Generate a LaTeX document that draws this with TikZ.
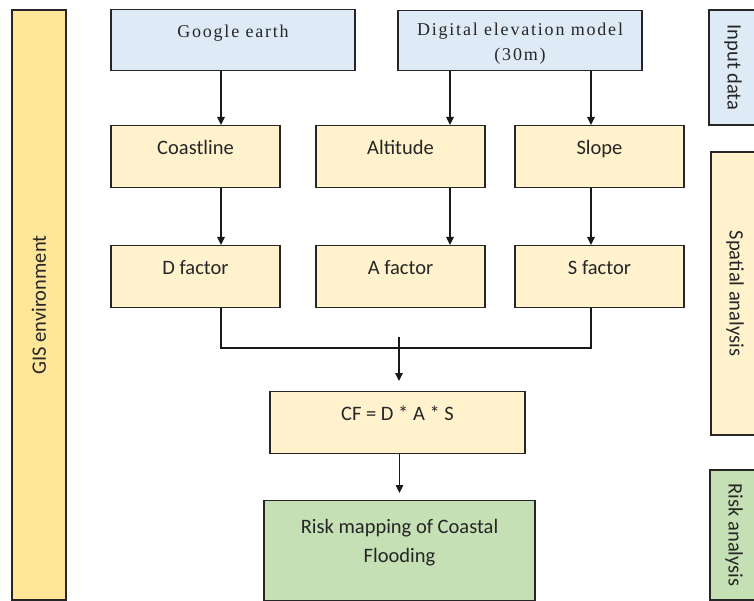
\documentclass[tikz,border=0pt]{standalone}
\usepackage{fontspec}
\setmainfont{Carlito}
\newfontfamily\demfont[LetterSpace=10]{Liberation Serif}
\usetikzlibrary{arrows.meta,calc}

\definecolor{inblue}{RGB}{222,235,247}
\definecolor{procyellow}{RGB}{255,242,204}
\definecolor{gisgold}{RGB}{255,230,153}
\definecolor{riskgreen}{RGB}{197,224,180}

\begin{document}
\begin{tikzpicture}[x=1pt, y=-1pt, font=\fontsize{20.5}{29}\selectfont,
  box/.style={draw=black!85, line width=1.1pt, fill=procyellow, anchor=north,
    inner xsep=2pt, inner ysep=0pt, align=center, text=black!85},
  onel/.style={box, text height=29pt, text depth=33pt},
  side/.style={draw=black!85, line width=1.1pt, inner sep=0pt, text=black!85},
  arr/.style={-{Triangle[length=8pt,width=7.5pt]}, line width=1.1pt, black!90},
  link/.style={line width=1.1pt, black!90}]
  \useasboundingbox (0,0) rectangle (754,601);

  \node[side, fill=gisgold, rotate=90, minimum width=590pt, minimum height=54pt] (gis) at (39,305) {GIS environment};
  \node[side, fill=inblue, rotate=-90, minimum width=115pt, minimum height=48pt] (input) at (733,67.5) {Input data};
  \node[side, fill=procyellow, rotate=-90, minimum width=283pt, minimum height=48pt] (spatial) at (735,293.5) {Spatial analysis};
  \node[side, fill=riskgreen, rotate=-90, minimum width=130pt, minimum height=48pt] (riskan) at (734,535) {Risk analysis};

  \node[onel, fill=inblue, minimum width=244pt, font=\demfont\fontsize{18}{25}\selectfont,
    text height=28pt, text depth=33pt] (google) at (233,9) {Google earth};
  \node[box, fill=inblue, minimum width=244pt, font=\demfont\fontsize{18}{25}\selectfont] (dem) at (520,10)
    {\rule{0pt}{25pt}Digital elevation model\\(30m)\rule[-10pt]{0pt}{10pt}};

  \node[onel, minimum width=169pt] (coast) at (195.5,125) {Coastline};
  \node[onel, minimum width=169pt] (alt) at (400.5,125) {Altitude};
  \node[onel, minimum width=169pt] (slope) at (599.5,125) {Slope};

  \node[onel, minimum width=169pt] (dfac) at (195.5,245) {D factor};
  \node[onel, minimum width=169pt] (afac) at (400.5,245) {A factor};
  \node[onel, minimum width=169pt] (sfac) at (599.5,245) {S factor};

  \node[onel, minimum width=255pt] (cf) at (397.5,391) {CF = D * A * S};
  \node[box, fill=riskgreen, minimum width=271pt] (risk) at (399.5,500)
    {\rule{0pt}{33pt}Risk mapping of Coastal\\Flooding\rule[-38pt]{0pt}{38pt}};

  \coordinate (colD) at (221,0);
  \coordinate (colA) at (450,0);
  \coordinate (colS) at (591,0);
  \coordinate (merge) at (399,348);

  \draw[arr] (google.south -| colD) -- (coast.north -| colD);
  \draw[arr] (dem.south -| colA) -- (alt.north -| colA);
  \draw[arr] (dem.south -| colS) -- (slope.north -| colS);
  \draw[arr] (coast.south -| colD) -- (dfac.north -| colD);
  \draw[arr] (alt.south -| colA) -- (afac.north -| colA);
  \draw[arr] (slope.south -| colS) -- (sfac.north -| colS);
  \draw[link] (dfac.south -| colD) |- (merge) -| (sfac.south -| colS);
  \draw[arr, shorten >=10pt] ([yshift=11pt]merge) -- (cf.north -| merge);
  \draw[arr, shorten >=7pt] (cf.south -| risk.north) -- (risk.north);
\end{tikzpicture}
\end{document}
